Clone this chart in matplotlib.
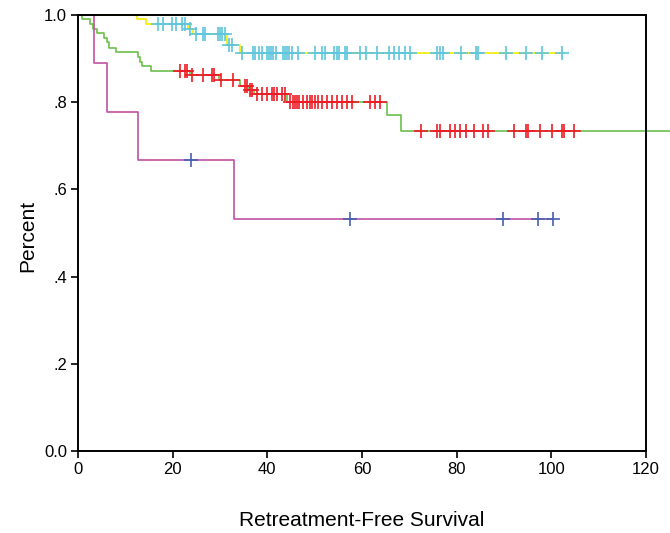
import numpy as np
import matplotlib.pyplot as plt

plt.rcParams['font.family'] = ['Liberation Sans', 'DejaVu Sans']

# Group 1 (yellow line, cyan censor marks)
g1_t = [0, 12.5, 14.4, 23.2, 24.4, 31.4, 34.2]
g1_s = [1.0, 0.991, 0.979, 0.969, 0.956, 0.932, 0.912]
g1_end = 102.3
g1_cens_t = [16.9, 17.9, 19.9, 20.7, 22.0, 22.6,
             23.6,
             24.9, 26.4, 26.8, 29.6, 30.0, 30.4, 31.0,
             31.9, 32.5,
             34.6, 37.0, 37.4, 38.2, 38.9, 39.9, 40.4, 40.8, 41.2, 41.8,
             43.3, 43.7, 44.2, 44.6, 45.2, 46.5, 50.1, 51.6, 52.2, 54.1,
             54.7, 55.1, 56.4, 56.8, 59.6, 60.9, 63.2, 65.7, 66.8, 67.8,
             69.1, 70.1, 75.9, 76.5, 77.1, 80.9, 84.1, 84.5, 90.4, 94.7,
             98.0, 102.2]
g1_cens_s = ([0.979] * 6 + [0.969] + [0.956] * 7 + [0.932] * 2 +
             [0.912] * 42)

# Group 2 (green line, red censor marks)
g2_t = [0, 0.9, 2.5, 3.1, 3.95, 5.6, 6.1, 6.55, 8.0, 12.7, 13.1, 13.5,
        15.4, 23.7, 29.8, 34.2, 36.1, 37.2, 44.1, 65.2, 68.3]
g2_s = [1.0, 0.992, 0.979, 0.969, 0.959, 0.948, 0.937, 0.925, 0.916,
        0.904, 0.893, 0.883, 0.872, 0.862, 0.850, 0.837, 0.829, 0.820,
        0.801, 0.770, 0.733]
g2_end = 126
g2_cens_t = [21.6, 22.6, 23.0,
             24.1, 26.4, 28.3, 28.7,
             30.2, 32.7,
             35.3, 35.7,
             36.3, 36.8,
             37.8, 38.9, 39.9, 41.0, 41.4, 42.0, 43.1, 43.7,
             44.8, 45.4, 45.8, 46.3, 46.7, 47.5, 48.4, 49.0, 49.4, 50.1,
             50.7, 51.6, 52.6, 53.7, 54.7, 55.8, 56.8, 57.9, 61.7, 62.8,
             63.8,
             72.5, 75.9, 76.5, 78.6, 79.7, 80.7, 82.0, 83.7, 85.6, 86.6,
             92.1, 94.7, 95.1, 97.6, 100.1, 102.3, 102.7, 104.8]
g2_cens_s = ([0.872] * 3 + [0.862] * 4 + [0.850] * 2 + [0.837] * 2 +
             [0.829] * 2 + [0.820] * 8 + [0.801] * 21 + [0.733] * 18)

# Group 3 (magenta line, blue censor marks)
g3_t = [0, 3.4, 6.2, 12.7, 32.9]
g3_s = [1.0, 0.889, 0.778, 0.667, 0.533]
g3_end = 100.4
g3_cens_t = [23.8, 57.5, 89.8, 97.2, 100.4]
g3_cens_s = [0.667, 0.533, 0.533, 0.533, 0.533]

x_ticks = [0, 20, 40, 60, 80, 100, 120]
y_ticks = [0.0, 0.2, 0.4, 0.6, 0.8, 1.0]
y_labels = ['0.0', '.2', '.4', '.6', '.8', '1.0']

groups = [
    (g1_t, g1_s, g1_end, g1_cens_t, g1_cens_s, '#f2ea00', '#5ec6dc'),
    (g2_t, g2_s, g2_end, g2_cens_t, g2_cens_s, '#6cbf4a', '#ee1c24'),
    (g3_t, g3_s, g3_end, g3_cens_t, g3_cens_s, '#c052a2', '#4660b0'),
]

fig = plt.figure(figsize=(6.7, 5.33), dpi=100)
ax = fig.add_axes([0.1164, 0.1538, 0.8478, 0.818])

# survival steps first, censor marks on top
for t, s, end, ct, cs, line_col, mark_col in groups:
    xs = np.append(t, end)
    ys = np.append(s, s[-1])
    ax.step(xs, ys, where='post', color=line_col, lw=1.2,
            clip_on=False, zorder=2)
for t, s, end, ct, cs, line_col, mark_col in groups:
    ax.plot(ct, cs, ls='none', marker='+', ms=10, mew=1.2,
            color=mark_col, zorder=3)

ax.set_xlim(0, 120)
ax.set_ylim(0, 1.0)
ax.set_xticks(x_ticks)
ax.set_yticks(y_ticks)
ax.set_yticklabels(y_labels)
ax.tick_params(direction='out', length=5, width=1.2, labelsize=12, pad=3)
for sp in ax.spines.values():
    sp.set_linewidth(1.4)

fig.text(0.54, 0.006, 'Retreatment-Free Survival', ha='center',
         va='bottom', fontsize=15)
fig.text(0.042, 0.557, 'Percent', ha='center', va='center', rotation=90,
         fontsize=15)

plt.savefig('out.png', dpi=100)
plt.close()
